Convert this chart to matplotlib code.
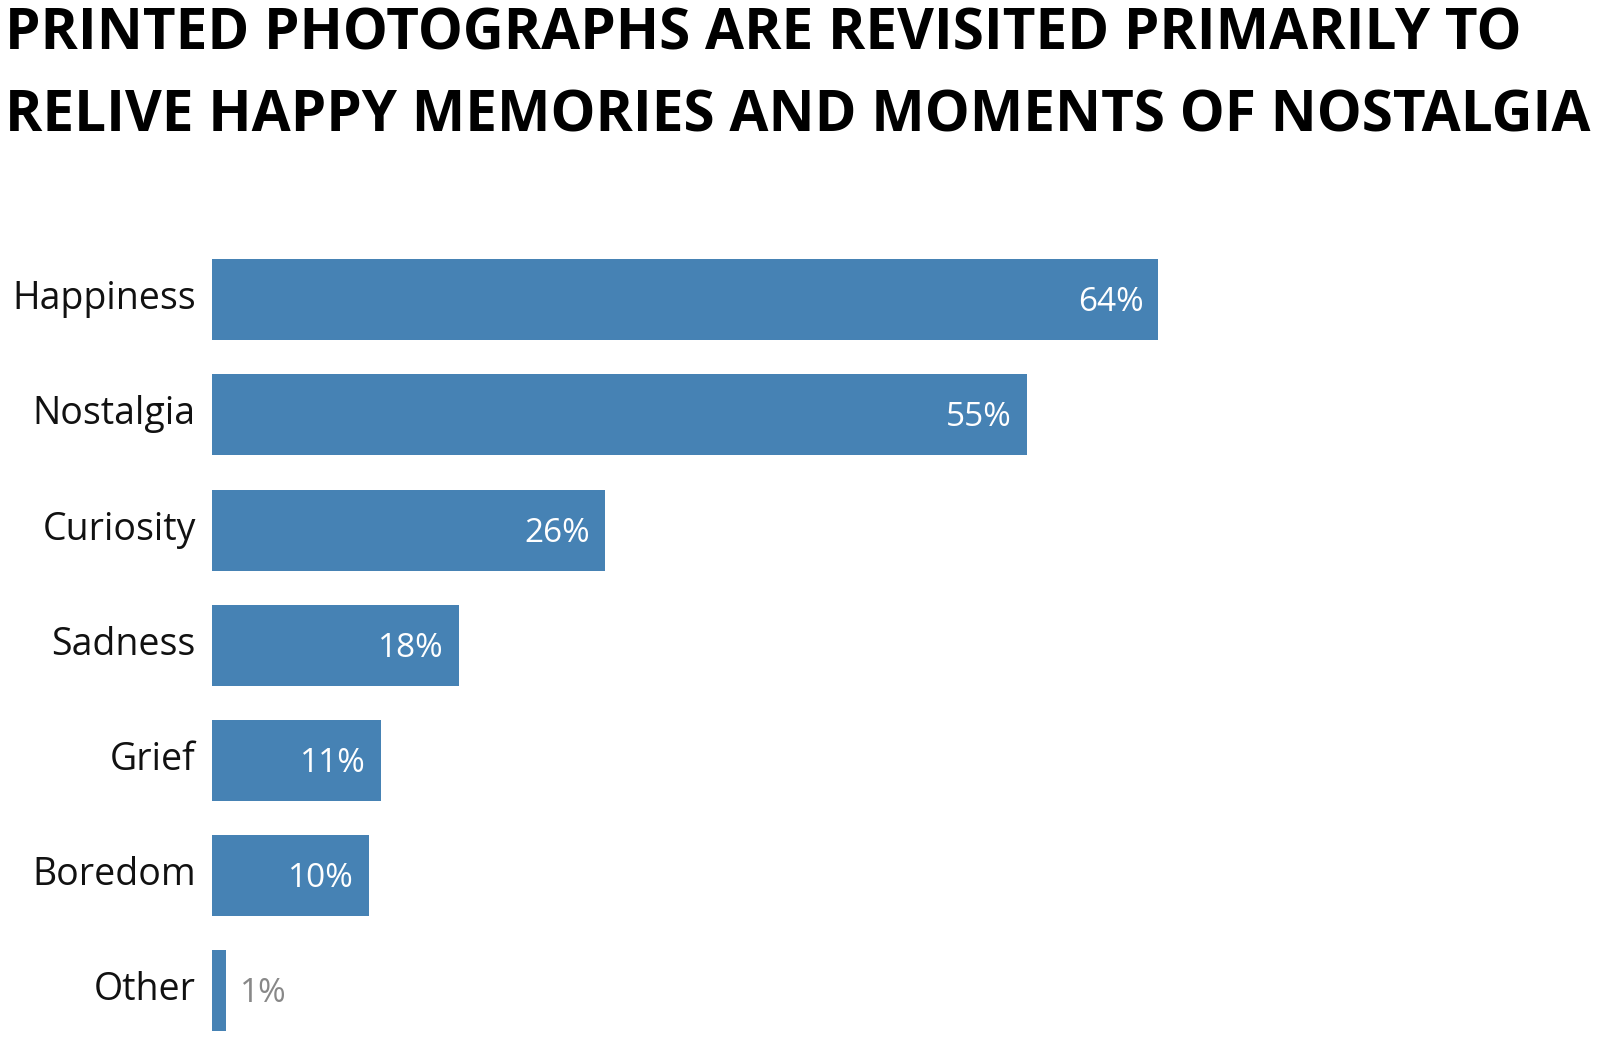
import matplotlib
matplotlib.use("Agg")
import matplotlib.pyplot as plt
from matplotlib import font_manager

categories = ["Happiness", "Nostalgia", "Curiosity", "Sadness", "Grief", "Boredom", "Other"]
values = [64.0, 55.1, 26.6, 16.7, 11.45, 10.65, 1.0]
value_labels = ["64%", "55%", "26%", "18%", "11%", "10%", "1%"]
title_lines = ["PRINTED PHOTOGRAPHS ARE REVISITED PRIMARILY TO",
               "RELIVE HAPPY MEMORIES AND MOMENTS OF NOSTALGIA"]

W, H = 1600, 1039
plt.rcParams['font.family'] = ['Open Sans', 'DejaVu Sans']
fig = plt.figure(figsize=(W / 100, H / 100), dpi=100)

# axes geometry in pixels
left_px = 211.7
px_per_unit = 14.79
center0 = 299.7
spacing = 115.2
top_px = center0 - 0.5 * spacing
bottom_px = H
ax = fig.add_axes([left_px / W, 1 - bottom_px / H, (W - left_px) / W, (bottom_px - top_px) / H])
xmax = (W - left_px) / px_per_unit
ymax = (bottom_px - center0) / spacing
ax.set_xlim(0, xmax)
ax.set_ylim(ymax, -0.5)

color = "#4682B4"
ypos = list(range(len(categories)))
ax.barh(ypos, values, height=0.703, color=color, edgecolor="none")

for y, v, lab, cat in zip(ypos, values, value_labels, categories):
    if v > 5:
        ax.annotate(lab, xy=(v, y), xytext=(-15, 1), textcoords="offset pixels",
                    ha="right", va="center_baseline", color="white", fontsize=24)
    else:
        ax.annotate(lab, xy=(v, y), xytext=(13, 1), textcoords="offset pixels",
                    ha="left", va="center_baseline", color="#888888", fontsize=24)
    ax.annotate(cat, xy=(0, y), xytext=(-16, 5), textcoords="offset pixels",
                ha="right", va="center_baseline", color="#111111", fontsize=27)

ax.axis("off")

# title: prefer a semi-condensed bold Open Sans if installed, otherwise Open Sans Bold fitted to width
def is_bold(f):
    w = f.weight
    if isinstance(w, str):
        return w in ('bold', 'extra bold', 'heavy', 'black', 'demibold')
    return w >= 700

semi = [f for f in font_manager.fontManager.ttflist
        if 'Open Sans' in f.name and str(f.stretch).lower() in ('semi-condensed', '87.5')
        and is_bold(f)]
if semi:
    tprops = dict(fontproperties=font_manager.FontProperties(fname=semi[0].fname, size=46))
else:
    tprops = dict(fontsize=46, fontweight="bold")

t1 = fig.text(5 / W, 1 - 50 / H, title_lines[0], ha="left", va="baseline", color="#000000", **tprops)
t2 = fig.text(5 / W, 1 - 131 / H, title_lines[1], ha="left", va="baseline", color="#000000", **tprops)

renderer = fig.canvas.get_renderer()
target = 1585.0
wid = t2.get_window_extent(renderer).width
if wid > target:
    scale = target / wid
    for t in (t1, t2):
        t.set_fontsize(t.get_fontsize() * scale)

fig.savefig("out.png", dpi=100, facecolor="white")
